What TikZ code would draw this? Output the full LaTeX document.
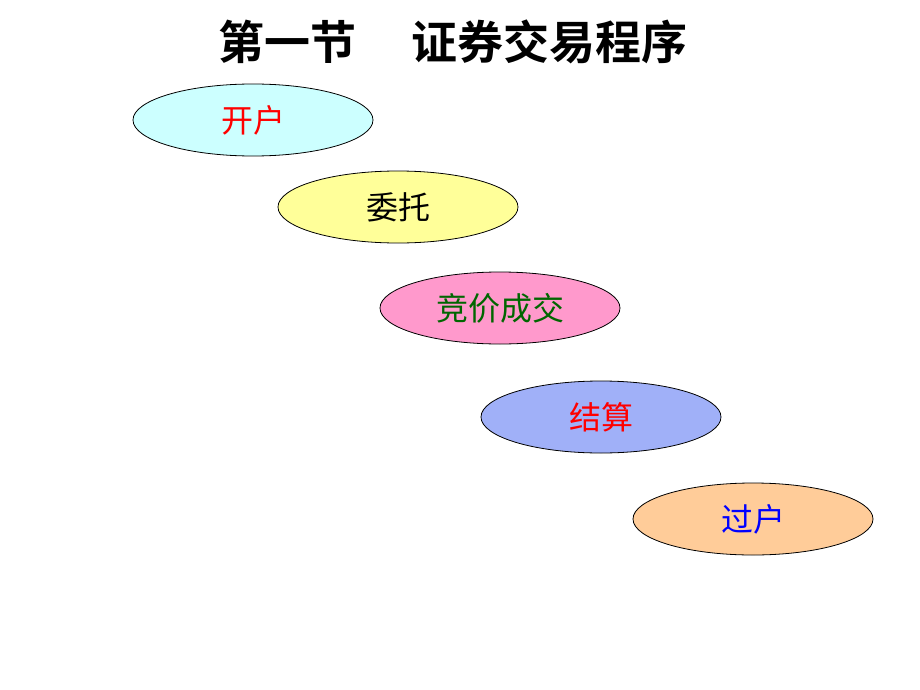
\documentclass[tikz,border=0pt]{standalone}
\usepackage{fontspec}
\newfontfamily\cjk{Noto Sans CJK SC}
\newfontfamily\cjkb{Noto Sans CJK SC Bold}
\usetikzlibrary{shapes.geometric}
\definecolor{c1}{HTML}{CCFFFF}
\definecolor{c2}{HTML}{FFFF99}
\definecolor{c3}{HTML}{FF99CC}
\definecolor{c4}{HTML}{A0B0F8}
\definecolor{c5}{HTML}{FFCC99}
\definecolor{tg}{HTML}{006600}
\tikzset{ov/.style={ellipse,draw=black,line width=0.8pt,minimum width=240pt,minimum height=72pt,inner sep=0pt,font=\cjk\fontsize{32}{36}\selectfont}}
\begin{document}
\begin{tikzpicture}[x=1pt,y=-1pt]
\useasboundingbox (0,0) rectangle (920,690);
\node (title) at (453,42) {\cjkb\fontsize{46}{52}\selectfont 第一节\hspace{1.2em}证券交易程序};
\node[ov,fill=c1,text=red] (a) at (253,120) {开户};
\node[ov,fill=c2,text=black] (b) at (398,207) {委托};
\node[ov,fill=c3,text=tg] (c) at (500,308) {竞价成交};
\node[ov,fill=c4,text=red] (d) at (601,417) {结算};
\node[ov,fill=c5,text=blue] (e) at (753,519) {过户};
\end{tikzpicture}
\end{document}
